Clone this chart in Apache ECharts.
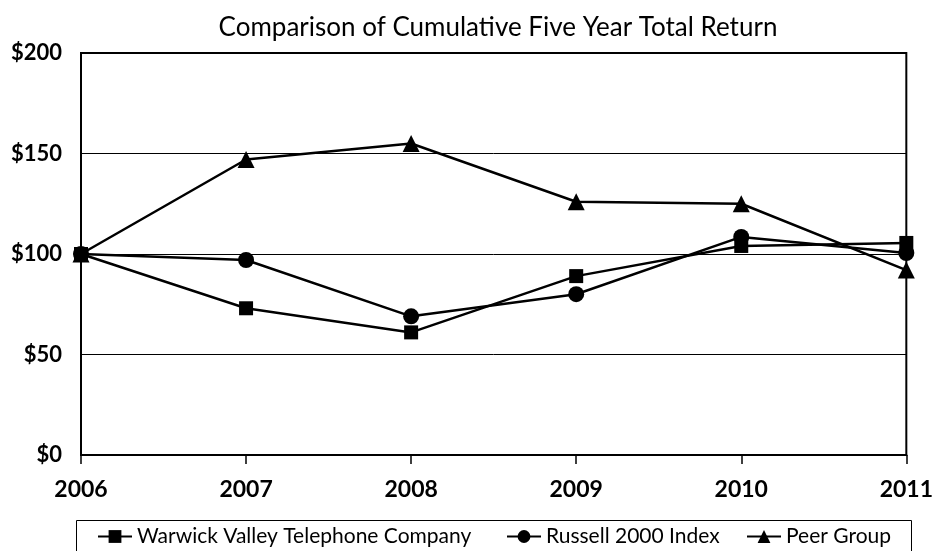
<!DOCTYPE html>
<html>
<head>
<meta charset="utf-8">
<script src="https://cdn.jsdelivr.net/npm/echarts@6/dist/echarts.min.js"></script>
<style>html,body{margin:0;padding:0;background:#fff;}#c{width:936px;height:551px;}</style>
</head>
<body>
<div id="c"></div>
<script>
const years = ['2006','2007','2008','2009','2010','2011'];
const warwick = [100, 73, 61, 89, 104, 105.5];
const russell = [100, 97, 69, 80, 108.5, 100.5];
const peer = [100, 147, 155, 126, 125, 92];
const seriesNames = ['Warwick Valley Telephone Company','Russell 2000 Index','Peer Group'];
const yTicks = [0, 50, 100, 150, 200];

const chart = echarts.init(document.getElementById('c'));
const font = 'Lato, "DejaVu Sans", sans-serif';
function mk(name, data, symbol, size) {
  return {
    name, type: 'line', data, symbol, symbolSize: size,
    lineStyle: {color: '#000', width: 2.5},
    itemStyle: {color: '#000'},
    animation: false
  };
}
const legendBase = {
  top: 526, itemWidth: 34, itemHeight: 16, padding: 0,
  textStyle: {fontFamily: font, fontSize: 21, color: '#000'},
  itemGap: 4
};
chart.setOption({
  backgroundColor: '#fff',
  title: {
    text: 'Comparison of Cumulative Five Year Total Return',
    left: 493, top: 10, textAlign: 'center',
    textStyle: {fontFamily: font, fontSize: 26, fontWeight: 'normal', color: '#000'}
  },
  legend: [
    Object.assign({}, legendBase, {left: 97, data: [seriesNames[0]]}),
    Object.assign({}, legendBase, {left: 506, data: [seriesNames[1]]}),
    Object.assign({}, legendBase, {left: 746, data: [seriesNames[2]]})
  ],
  graphic: [{
    type: 'rect', left: 74, top: 518,
    shape: {width: 835, height: 32},
    style: {fill: 'none', stroke: '#000', lineWidth: 1}
  }],
  grid: {
    left: 81, right: 25, top: 53, bottom: 96,
    show: true, borderColor: '#000', borderWidth: 2, backgroundColor: 'transparent'
  },
  xAxis: {
    type: 'category', data: years, boundaryGap: false,
    axisLine: {show: true, lineStyle: {color: '#000', width: 2}},
    axisTick: {show: true, length: 9, lineStyle: {color: '#000', width: 1.5}, alignWithLabel: true},
    axisLabel: {fontFamily: font, fontSize: 23, color: '#000', margin: 23, fontWeight: 'bold'},
    splitLine: {show: false}
  },
  yAxis: {
    type: 'value', min: yTicks[0], max: yTicks[yTicks.length-1], interval: 50,
    axisLine: {show: false}, axisTick: {show: false},
    axisLabel: {fontFamily: font, fontSize: 22, color: '#000', margin: 19, fontWeight: 'bold',
      formatter: v => '$' + v},
    splitLine: {show: true, lineStyle: {color: '#000', width: 1}}
  },
  series: [
    mk(seriesNames[0], warwick, 'rect', 14),
    mk(seriesNames[1], russell, 'circle', 16),
    mk(seriesNames[2], peer, 'triangle', 17)
  ]
});
</script>
</body>
</html>
